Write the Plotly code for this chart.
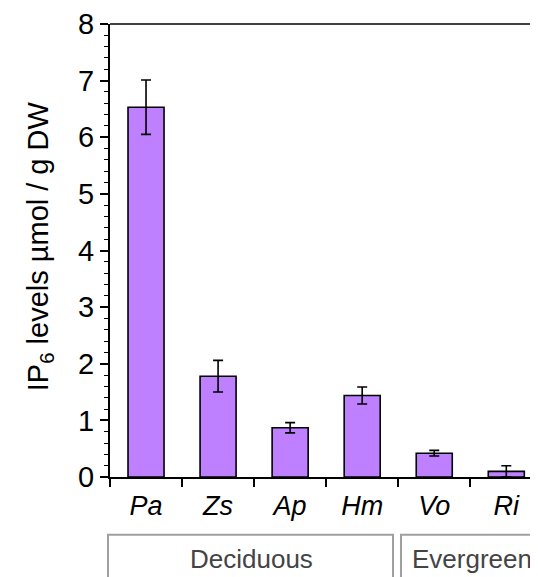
import plotly.graph_objects as go

categories = ["Pa", "Zs", "Ap", "Hm", "Vo", "Ri"]
ip6_levels = [6.53, 1.78, 0.87, 1.44, 0.42, 0.10]
ip6_errors = [0.48, 0.28, 0.09, 0.15, 0.05, 0.10]
groups = ["Deciduous", "Evergreen"]
y_ticks = [0, 1, 2, 3, 4, 5, 6, 7, 8]

OFF = 8  # default page body margin
W, H = 538 - OFF, 577 - OFF
ML, MR, MT = 110 - OFF, 0, 20 - OFF
MB = H - (476.7 - OFF)
pw = W - ML - MR
ph = H - MT - MB

def px_x(p):  # page px -> paper
    return (p - OFF - ML) / pw

def px_y(p):
    return (H - MB - (p - OFF)) / ph

FONT = "Liberation Sans"

fig = go.Figure()
fig.add_trace(go.Bar(
    x=categories, y=ip6_levels, width=0.5,
    marker=dict(color="#BF80FF", line=dict(color="black", width=1.6)),
    error_y=dict(type="data", array=ip6_errors, color="black", thickness=1.6, width=5),
))

fig.update_layout(
    width=W, height=H,
    margin=dict(l=ML, r=MR, t=MT, b=MB, pad=0),
    plot_bgcolor="white", paper_bgcolor="white",
    showlegend=False,
    font=dict(family=FONT, color="black", size=28),
    xaxis=dict(
        type="category", range=[-0.5, 5.44], tickson="boundaries",
        showline=True, linecolor="black", linewidth=2,
        ticks="outside", ticklen=8, tickwidth=1.5, tickcolor="black",
        tickfont=dict(family=FONT, size=27, style="italic"),
        ticklabelstandoff=4, ticklabeloverflow="allow",
        showgrid=False, zeroline=False,
    ),
    yaxis=dict(
        range=[0, 8], tickvals=y_ticks,
        showline=True, linecolor="black", linewidth=2,
        ticks="outside", ticklen=8, tickwidth=1.5, tickcolor="black",
        tickfont=dict(family=FONT, size=29), ticklabeloverflow="allow",
        minor=dict(dtick=0.2, ticks="outside", ticklen=4, tickwidth=1, tickcolor="black", showgrid=False),
        showgrid=False, zeroline=False,
    ),
)

# top border line
fig.add_shape(type="line", xref="paper", yref="paper", x0=0, x1=1.02, y0=1, y1=1,
              line=dict(color="black", width=1.5))

# y-axis title
fig.add_annotation(text="IP<sub>6</sub> levels µmol / g DW", textangle=-90,
                   xref="paper", yref="paper", x=px_x(40), y=px_y(244),
                   showarrow=False, font=dict(family=FONT, size=29, color="black"),
                   xanchor="center", yanchor="middle")

# group boxes
box_top = px_y(535)
box_bot = px_y(600)
boxes = [(108, 393, 251), (401, 560, 472)]
for (l, r, c), name in zip(boxes, groups):
    x0, x1 = px_x(l), px_x(r)
    fig.add_shape(type="path", xref="paper", yref="paper",
                  path=f"M {x0} {box_bot} L {x0} {box_top} L {x1} {box_top} L {x1} {box_bot}",
                  line=dict(color="#A0A0A0", width=2))
    fig.add_annotation(text=name, xref="paper", yref="paper", x=px_x(c), y=px_y(559),
                       showarrow=False, font=dict(family=FONT, size=26, color="#444444"),
                       xanchor="center", yanchor="middle")

fig.write_html("out.html")
